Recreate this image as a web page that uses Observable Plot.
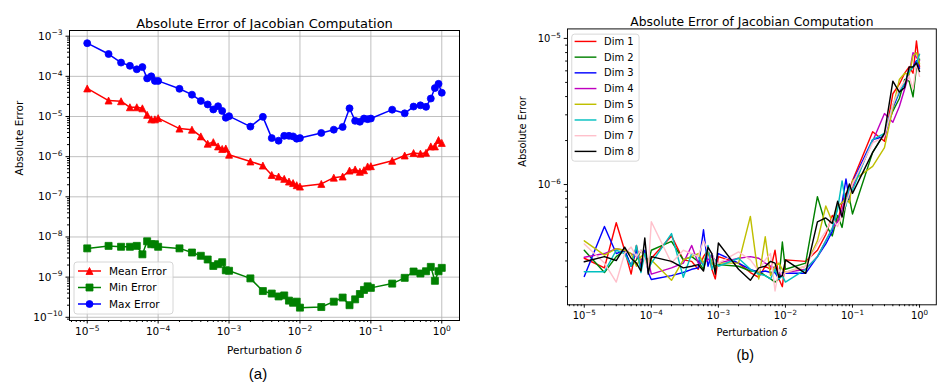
<!DOCTYPE html>
<html><head><meta charset="utf-8">
<script src="https://cdn.jsdelivr.net/npm/d3@7"></script>
<script src="https://cdn.jsdelivr.net/npm/@observablehq/plot@0.6"></script>
<style>
html,body{margin:0;padding:0;background:#fff;overflow:hidden;width:951px;height:387px}
#wrap{position:relative;width:951px;height:387px;overflow:hidden;background:#fff}
#pa,#pb{position:absolute;top:0}
#pa{left:0}
#pb{left:476px}
</style></head><body><div id="wrap"><div id="pa"></div><div id="pb"></div></div>
<script>
// ---------------- data ----------------
const titleText = "Absolute Error of Jacobian Computation";
const xLabel = "Perturbation δ";
const yLabel = "Absolute Error";
const deltas = [1e-5,2e-5,3e-5,4e-5,5e-5,6e-5,7e-5,8e-5,9e-5,
  1e-4,2e-4,3e-4,4e-4,5e-4,6e-4,7e-4,8e-4,9e-4,
  1e-3,2e-3,3e-3,4e-3,5e-3,6e-3,7e-3,8e-3,9e-3,
  1e-2,2e-2,3e-2,4e-2,5e-2,6e-2,7e-2,8e-2,9e-2,
  1e-1,2e-1,3e-1,4e-1,5e-1,6e-1,7e-1,8e-1,9e-1,1];
const xMajor = [1e-5,1e-4,1e-3,1e-2,1e-1,1];
const yMajorA = [1e-10,1e-9,1e-8,1e-7,1e-6,1e-5,1e-4,1e-3];
const yMajorB = [1e-6,1e-5];

const meanErr = [5.0e-5,2.5e-5,2.4e-5,1.7e-5,1.7e-5,1.6e-5,1.1e-5,8.5e-6,8.5e-6,
  9.1e-6,5.0e-6,4.7e-6,3.2e-6,2.1e-6,2.3e-6,1.8e-6,1.56e-6,1.6e-6,
  1.12e-6,7.6e-7,6.0e-7,3.5e-7,3.2e-7,2.8e-7,2.4e-7,2.2e-7,1.95e-7,
  1.8e-7,2.1e-7,3.0e-7,3.2e-7,4.5e-7,4.8e-7,4.2e-7,4.6e-7,5.7e-7,
  5.8e-7,7.9e-7,1.07e-6,1.23e-6,1.19e-6,1.25e-6,1.8e-6,1.8e-6,2.6e-6,2.2e-6];
const minErr = [5.2e-9,6.0e-9,5.7e-9,5.7e-9,6.0e-9,3.7e-9,7.8e-9,6.6e-9,6.6e-9,
  5.7e-9,5.2e-9,4.1e-9,3.4e-9,2.75e-9,1.9e-9,2.1e-9,2.35e-9,1.48e-9,
  1.44e-9,9.3e-10,4.5e-10,3.9e-10,3.3e-10,3.5e-10,2.6e-10,2.3e-10,2.45e-10,
  1.74e-10,1.8e-10,2.45e-10,3.1e-10,2.0e-10,2.8e-10,3.8e-10,4.8e-10,5.9e-10,
  5.4e-10,6.9e-10,9.6e-10,1.38e-9,1.23e-9,1.4e-9,1.8e-9,8.1e-10,1.4e-9,1.7e-9];
const maxErr = [6.7e-4,3.6e-4,2.2e-4,1.83e-4,1.5e-4,1.7e-4,8.9e-5,1.0e-4,7.7e-5,
  7.7e-5,4.9e-5,3.5e-5,2.45e-5,2.0e-5,1.5e-5,1.8e-5,1.38e-5,9.3e-6,
  1.02e-5,5.6e-6,9.8e-6,2.9e-6,2.5e-6,3.3e-6,3.3e-6,3.2e-6,2.8e-6,
  2.9e-6,3.9e-6,4.7e-6,5.5e-6,1.6e-5,7.8e-6,7.4e-6,8.9e-6,8.6e-6,
  8.9e-6,1.48e-5,1.2e-5,1.77e-5,1.9e-5,1.74e-5,2.8e-5,5.1e-5,6.5e-5,3.9e-5];

const dim1 = [3.13e-7,2.69e-7,5.48e-7,3.55e-7,2.44e-7,3.83e-7,2.76e-7,3.37e-7,2.90e-7,
  3.13e-7,4.45e-7,3.05e-7,2.98e-7,2.63e-7,3.21e-7,3.55e-7,2.63e-7,2.26e-7,
  3.21e-7,2.90e-7,2.50e-7,2.32e-7,2.76e-7,2.63e-7,3.55e-7,2.26e-7,2.00e-7,
  3.05e-7,2.98e-7,3.55e-7,4.55e-7,6.14e-7,5.56e-7,7.49e-7,8.70e-7,9.14e-7,
  1.06e-6,2.30e-6,1.98e-6,4.18e-6,4.86e-6,5.78e-6,6.38e-6,5.78e-6,9.6e-6,6.38e-6];
const dim2 = [3.55e-7,2.50e-7,3.21e-7,3.55e-7,2.76e-7,3.05e-7,3.55e-7,3.21e-7,2.90e-7,
  3.55e-7,4.08e-7,3.05e-7,3.21e-7,2.98e-7,2.63e-7,3.55e-7,2.90e-7,2.76e-7,
  2.83e-7,2.76e-7,2.56e-7,2.56e-7,2.38e-7,2.26e-7,2.15e-7,2.26e-7,4.04e-7,
  2.63e-7,2.90e-7,8.27e-7,5.29e-7,4.45e-7,6.14e-7,5.09e-7,7.49e-7,8.07e-7,
  6.29e-7,1.66e-6,2.24e-6,3.18e-6,3.88e-6,5.23e-6,5.10e-6,3.98e-6,6.38e-6,7.2e-6];
const dim3 = [2.35e-7,5.16e-7,3.37e-7,3.55e-7,2.76e-7,3.55e-7,2.69e-7,3.55e-7,2.50e-7,
  2.24e-7,2.38e-7,2.50e-7,2.63e-7,2.69e-7,4.90e-7,2.76e-7,3.37e-7,2.90e-7,
  3.37e-7,2.90e-7,2.63e-7,2.50e-7,2.56e-7,2.50e-7,2.50e-7,2.26e-7,2.50e-7,
  2.47e-7,2.47e-7,3.21e-7,3.92e-7,4.78e-7,7.13e-7,7.49e-7,1.09e-6,7.87e-7,
  1.035e-6,2.03e-6,2.13e-6,3.34e-6,4.29e-6,4.86e-6,6.08e-6,6.38e-6,7.05e-6,6.23e-6];
const dim4 = [3.18e-7,3.37e-7,3.64e-7,3.55e-7,3.37e-7,3.21e-7,3.05e-7,3.21e-7,3.05e-7,
  2.44e-7,2.69e-7,2.90e-7,3.83e-7,2.90e-7,2.90e-7,3.05e-7,3.21e-7,3.05e-7,
  2.90e-7,3.13e-7,3.21e-7,3.13e-7,2.90e-7,2.76e-7,2.69e-7,2.50e-7,2.38e-7,
  2.50e-7,2.63e-7,3.21e-7,4.12e-7,5.02e-7,5.56e-7,6.78e-7,8.27e-7,9.14e-7,
  9.6e-7,1.98e-6,3.06e-6,2.67e-6,3.42e-6,4.51e-6,5.78e-6,7.99e-6,7.41e-6,7.05e-6];
const dim5 = [4.12e-7,3.29e-7,3.64e-7,3.55e-7,3.37e-7,2.76e-7,3.21e-7,3.37e-7,2.90e-7,
  3.05e-7,2.21e-7,3.05e-7,3.21e-7,3.37e-7,2.90e-7,3.55e-7,2.90e-7,2.69e-7,
  2.90e-7,2.90e-7,6.05e-7,2.26e-7,4.39e-7,2.38e-7,2.76e-7,2.90e-7,2.63e-7,
  2.50e-7,2.76e-7,4.12e-7,7.13e-7,5.56e-7,7.13e-7,7.49e-7,8.07e-7,7.49e-7,
  1.06e-6,1.33e-6,1.79e-6,3.34e-6,5.23e-6,5.78e-6,5.64e-6,7.60e-6,7.99e-6,6.71e-6];
const dim6 = [2.53e-7,2.53e-7,3.55e-7,3.37e-7,2.76e-7,3.83e-7,2.50e-7,3.37e-7,2.63e-7,
  2.90e-7,4.62e-7,2.32e-7,3.37e-7,3.21e-7,2.76e-7,3.83e-7,2.63e-7,3.05e-7,
  2.76e-7,3.13e-7,2.63e-7,2.44e-7,2.38e-7,2.26e-7,2.63e-7,2.26e-7,2.38e-7,
  2.15e-7,2.63e-7,3.21e-7,4.12e-7,5.02e-7,6.78e-7,1.06e-6,7.13e-7,9.6e-7,
  9.14e-7,2.03e-6,2.24e-6,3.51e-6,4.29e-6,4.98e-6,5.93e-6,6.38e-6,6.71e-6,7.79e-6];
const dim7 = [3.92e-7,2.90e-7,2.15e-7,3.37e-7,3.73e-7,3.21e-7,3.55e-7,3.05e-7,2.63e-7,
  5.56e-7,2.90e-7,3.55e-7,3.37e-7,3.21e-7,4.12e-7,3.55e-7,3.37e-7,2.90e-7,
  2.90e-7,3.46e-7,3.05e-7,2.56e-7,3.05e-7,3.37e-7,1.87e-7,2.63e-7,2.38e-7,
  2.50e-7,2.76e-7,3.92e-7,4.78e-7,5.84e-7,5.16e-7,6.14e-7,7.49e-7,8.70e-7,
  1.01e-6,1.93e-6,2.13e-6,3.51e-6,4.51e-6,5.10e-6,5.50e-6,4.51e-6,6.71e-6,5.50e-6];
const dim8 = [2.96e-7,3.21e-7,3.02e-7,3.73e-7,3.13e-7,2.90e-7,2.56e-7,4.31e-7,2.44e-7,
  3.21e-7,2.98e-7,2.69e-7,2.76e-7,2.83e-7,2.56e-7,3.73e-7,3.37e-7,2.44e-7,
  3.98e-7,2.63e-7,2.21e-7,2.69e-7,2.76e-7,2.98e-7,2.90e-7,2.32e-7,2.38e-7,
  3.05e-7,2.47e-7,5.56e-7,5.91e-7,5.42e-7,7.68e-7,5.99e-7,8.48e-7,1.01e-6,
  8.70e-7,1.66e-6,2.24e-6,5.10e-6,4.29e-6,4.62e-6,6.38e-6,6.38e-6,6.78e-6,5.93e-6];

const seriesA = [
  {name:"Mean Error", values:meanErr, color:"#ff0000", marker:"tri"},
  {name:"Min Error", values:minErr, color:"#008000", marker:"sq"},
  {name:"Max Error", values:maxErr, color:"#0000ff", marker:"circle"}
];
const seriesB = [
  {name:"Dim 1", values:dim1, color:"#ff0000"},
  {name:"Dim 2", values:dim2, color:"#008000"},
  {name:"Dim 3", values:dim3, color:"#0000ff"},
  {name:"Dim 4", values:dim4, color:"#bf00bf"},
  {name:"Dim 5", values:dim5, color:"#bfbf00"},
  {name:"Dim 6", values:dim6, color:"#00bfbf"},
  {name:"Dim 7", values:dim7, color:"#ffc0cb"},
  {name:"Dim 8", values:dim8, color:"#000000"}
];

// ---------------- helpers ----------------
const supMap = {"-":"⁻","0":"⁰","1":"¹","2":"²","3":"³","4":"⁴","5":"⁵","6":"⁶","7":"⁷","8":"⁸","9":"⁹"};
const invSup = Object.fromEntries(Object.entries(supMap).map(([k,v]) => [v, k === "-" ? "−" : k]));
const fmt = d => "10" + String(Math.round(Math.log10(d))).split("").map(c => supMap[c]).join("");
function minorTicks(dom){
  const out = [];
  const lo = Math.floor(Math.log10(dom[0])) - 1, hi = Math.ceil(Math.log10(dom[1]));
  for (let k = lo; k <= hi; k++) for (let m = 2; m <= 9; m++) {
    const v = m * Math.pow(10, k);
    if (v >= dom[0] && v <= dom[1]) out.push(v);
  }
  return out;
}
const tri = {draw(ctx, size){ const r = Math.sqrt(size/Math.PI); ctx.moveTo(0,-r); ctx.lineTo(r,r); ctx.lineTo(-r,r); ctx.closePath(); }};
const sq = {draw(ctx, size){ const r = Math.sqrt(size/Math.PI); ctx.rect(-r,-r,2*r,2*r); }};
const symbols = {tri, sq, circle: d3.symbolCircle};
const rows = vals => deltas.map((x,i) => ({x, y: vals[i]}));

const font = "DejaVu Sans, sans-serif";
const FS = 10.5;
const xDom = [Math.pow(10,-5.25), Math.pow(10,0.25)];
const yDomA = [Math.pow(10,-10.08), Math.pow(10,-2.858)];
const yDomB = [Math.pow(10,-6.823), Math.pow(10,-4.935)];

function commonMarks(yMajor, yDom){
  return [
    Plot.frame({stroke:"#000", strokeWidth:1}),
    Plot.axisX(xMajor, {tickSize:3.5, tickPadding:3.5, tickFormat:fmt, label:null, fontSize:FS}),
    Plot.axisX(minorTicks(xDom), {tickSize:2, text:null, label:null}),
    Plot.axisY(yMajor, {tickSize:3.5, tickPadding:3.5, tickFormat:fmt, label:null, fontSize:FS}),
    Plot.axisY(minorTicks(yDom), {tickSize:2, text:null, label:null}),
    Plot.text([titleText], {text:d=>d, frameAnchor:"top", dy:-12, fontSize:13}),
    Plot.text([xLabel], {text:d=>d, frameAnchor:"bottom", dy:33, fontSize:FS}),
  ];
}

// rewrite unicode superscripts as mathtext-like tspans; italicise the δ
function mathify(svg){
  d3.select(svg).selectAll("text").each(function(){
    const t = this.textContent;
    const el = d3.select(this);
    const m = /^10([⁻⁰¹²³⁴⁵⁶⁷⁸⁹]+)$/.exec(t);
    if (m) {
      const exp = m[1].split("").map(c => invSup[c]).join("");
      el.text(null);
      el.append("tspan").text("10");
      el.append("tspan").attr("font-size", 7.5).attr("dy", -4.2).text(exp);
    } else if (t === xLabel) {
      el.text(null);
      el.append("tspan").text("Perturbation ");
      el.append("tspan").attr("font-style", "italic").text("δ");
    }
  });
}

// ---------------- panel (a) ----------------
const markA = [];
markA.push(Plot.gridX(xMajor, {stroke:"#b0b0b0", strokeOpacity:1, strokeWidth:0.8}));
markA.push(Plot.gridY(yMajorA, {stroke:"#b0b0b0", strokeOpacity:1, strokeWidth:0.8}));
for (const s of seriesA) {
  markA.push(Plot.line(rows(s.values), {x:"x", y:"y", stroke:s.color, strokeWidth:1.5}));
  markA.push(Plot.dot(rows(s.values), {x:"x", y:"y", symbol:symbols[s.marker], r:3.5, fill:s.color, stroke:s.color, strokeWidth:0.8}));
}
const plotA = Plot.plot({
  width:475, height:387, marginTop:30, marginBottom:67, marginLeft:69, marginRight:16,
  style:{fontFamily:font, fontSize:FS+"px", background:"transparent", color:"#000"},
  x:{type:"log", domain:xDom},
  y:{type:"log", domain:yDomA},
  marks:[
    ...markA,
    ...commonMarks(yMajorA, yDomA),
    Plot.text([yLabel], {text:d=>d, frameAnchor:"left", dx:-50, rotate:-90, fontSize:FS}),
    Plot.text(["(a)"], {text:d=>d, frameAnchor:"bottom", dx:-6.5, dy:58, fontSize:15, fontFamily:"Liberation Sans, Arial, sans-serif"})
  ]
});
document.getElementById("pa").appendChild(plotA);

// ---------------- panel (b) ----------------
const markB = seriesB.map(s => Plot.line(rows(s.values), {x:"x", y:"y", stroke:s.color, strokeWidth:1.5}));
const plotB = Plot.plot({
  width:501, height:387, marginTop:30, marginBottom:66, marginLeft:96, marginRight:16,
  style:{fontFamily:font, fontSize:FS+"px", background:"transparent", color:"#000"},
  x:{type:"log", domain:xDom},
  y:{type:"log", domain:yDomB},
  marks:[
    ...markB,
    ...commonMarks(yMajorB, yDomB),
    Plot.text([yLabel], {text:d=>d, frameAnchor:"left", dx:-47, rotate:-90, fontSize:FS}),
    Plot.text(["(b)"], {text:d=>d, frameAnchor:"bottom", dx:-7, dy:58, fontSize:15, fontFamily:"Liberation Sans, Arial, sans-serif"})
  ]
});
document.getElementById("pb").appendChild(plotB);
mathify(plotA); mathify(plotB);

// ---------------- legends ----------------
function legend(svg, items, box, rowY0, rowStep, lineX0, lineX1, textX, withMarker){
  const g = d3.select(svg).append("g").attr("font-family", font).attr("font-size", FS).attr("text-anchor", "start");
  g.append("rect").attr("x", box[0]).attr("y", box[1]).attr("width", box[2]).attr("height", box[3])
    .attr("rx", 3).attr("fill", "#fff").attr("fill-opacity", 0.8).attr("stroke", "#cccccc").attr("stroke-width", 0.8);
  items.forEach((it, i) => {
    const y = rowY0 + i * rowStep;
    g.append("line").attr("x1", lineX0).attr("x2", lineX1).attr("y1", y).attr("y2", y)
      .attr("stroke", it.color).attr("stroke-width", 1.5);
    if (withMarker) {
      g.append("path").attr("transform", `translate(${(lineX0+lineX1)/2},${y})`)
        .attr("d", d3.symbol(symbols[it.marker], Math.PI*3.5*3.5)())
        .attr("fill", it.color).attr("stroke", it.color).attr("stroke-width", 0.8);
    }
    g.append("text").attr("x", textX).attr("y", y).attr("dy", "0.35em").attr("fill", "#000").attr("text-anchor", "start").text(it.name);
  });
}
legend(plotA, seriesA, [74, 262, 99, 52], 271, 16.5, 78, 101, 109, true);
legend(plotB, seriesB, [101, 36, 71, 134], 43.7, 16.57, 104, 127, 135, false);
</script></body></html>
